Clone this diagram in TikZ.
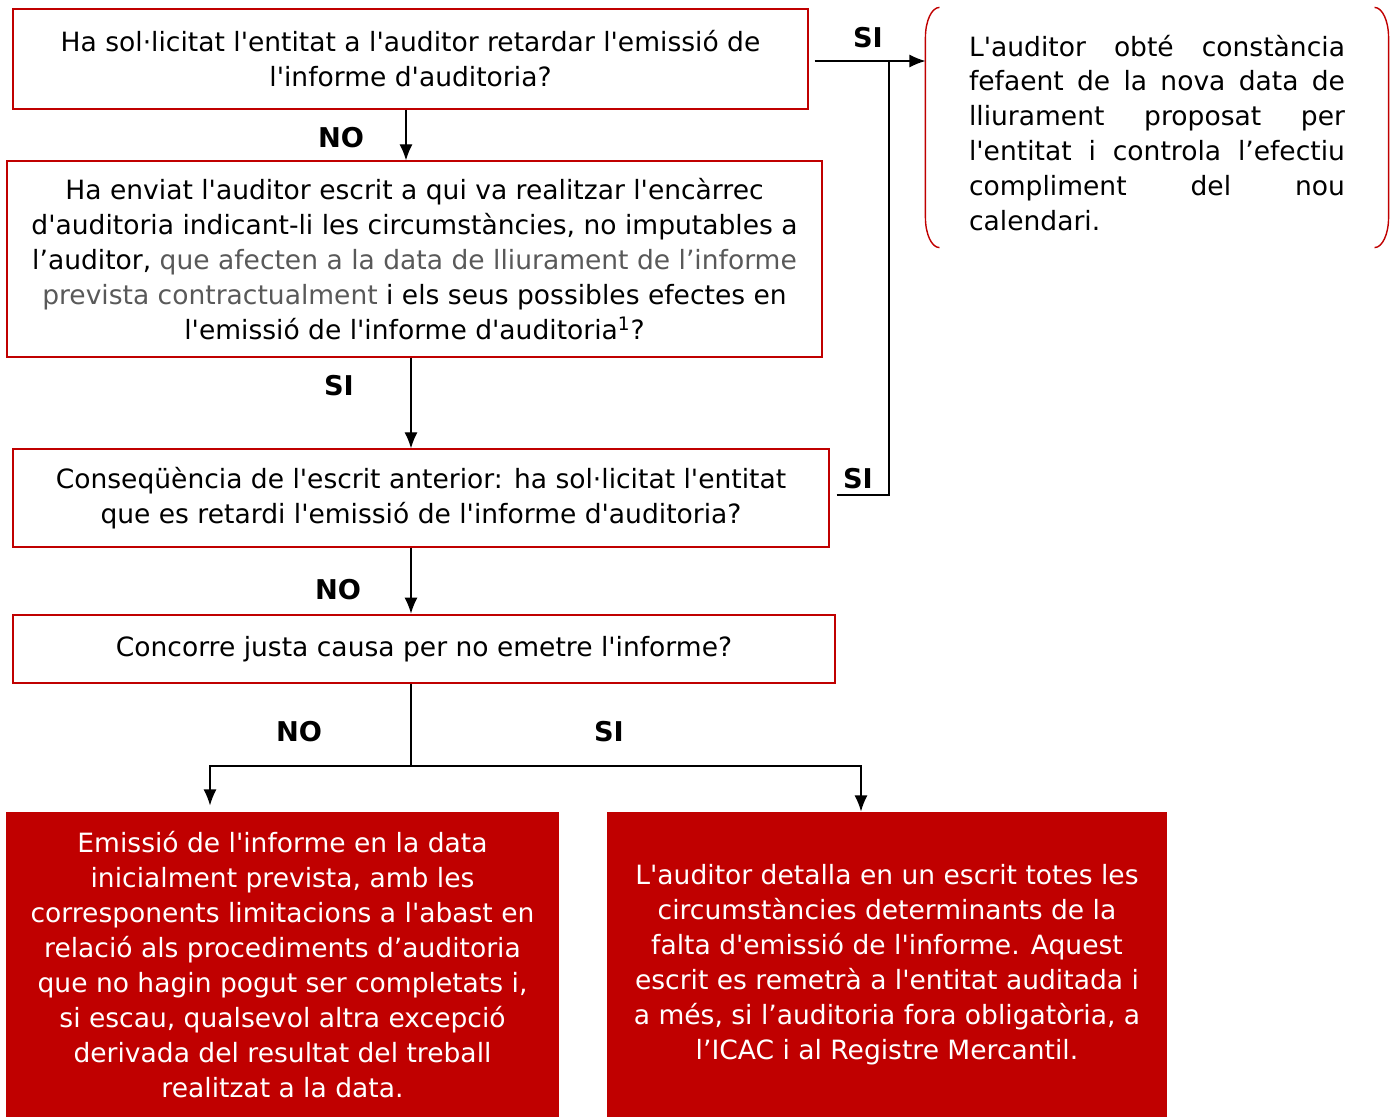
\documentclass[tikz,border=0pt]{standalone}
\usepackage{fontspec}
\usepackage{xcolor}
\usetikzlibrary{positioning, arrows.meta}
\newfontfamily\vfont{DejaVu Sans}
\definecolor{boxred}{HTML}{C00000}
\definecolor{txtgray}{HTML}{595959}

\begin{document}
\begin{tikzpicture}[x=0.02cm, y=-0.02cm, >={Latex[length=0.32cm,width=0.26cm]}, line width=0.7pt,
  font=\vfont\fontsize{15.1}{19.9}\selectfont]
  \tikzset{
    question/.style={draw=boxred, line width=0.8pt, align=center, inner sep=0pt},
    answer/.style={fill=boxred, text=white, align=center, inner sep=0pt},
    yesno/.style={font=\vfont\fontsize{15.5}{18}\selectfont\bfseries},
    bracket/.style={draw=boxred, line width=0.8pt}
  }
  \useasboundingbox (0,0) rectangle (1394,1117);

  % questions
  \node[question, minimum width=15.9cm, minimum height=2cm] (b1) at (410.5,59)
    {Ha sol·licitat l'entitat a l'auditor retardar l'emissió de\\ l'informe d'auditoria?};
  \node[question, minimum width=16.3cm, minimum height=3.92cm] (b2) at (414.5,259)
    {Ha enviat l'auditor escrit a qui va realitzar l'encàrrec\\
     d'auditoria indicant-li les circumstàncies, no imputables a\\
     l’auditor, \textcolor{txtgray}{que afecten a la data de lliurament de l’informe}\\
     \textcolor{txtgray}{prevista contractualment} i els seus possibles efectes en\\
     l'emissió de l'informe d'auditoria\textsuperscript{1}?};
  \node[question, minimum width=16.32cm, minimum height=1.96cm] (b3) at (421,498)
    {Conseqüència de l'escrit anterior: ha sol·licitat l'entitat\\ que es retardi l'emissió de l'informe d'auditoria?};
  \node[question, line width=1.6pt, minimum width=16.44cm, minimum height=1.36cm] (b4) at (424,649)
    {Concorre justa causa per no emetre l'informe?};

  % outcomes
  \node[answer, minimum width=11.06cm, minimum height=6.1cm] (b5) at (282.5,964.5)
    {Emissió de l'informe en la data\\ inicialment prevista, amb les\\
     corresponents limitacions a l'abast en\\ relació als procediments d’auditoria\\
     que no hagin pogut ser completats i,\\ si escau, qualsevol altra excepció\\
     derivada del resultat del treball\\ realitzat a la data.};
  \node[answer, minimum width=11.2cm, minimum height=6.1cm] (b6) at (887,964.5)
    {L'auditor detalla en un escrit totes les\\ circumstàncies determinants de la\\
     falta d'emissió de l'informe. Aquest\\ escrit es remetrà a l'entitat auditada i\\
     a més, si l’auditoria fora obligatòria, a\\ l’ICAC i al Registre Mercantil.};
  \node[minimum width=9.24cm, minimum height=4.86cm, text width=7.52cm, align=justify, inner sep=0pt] (rb) at (1157,133)
    {L'auditor obté constància\linebreak fefaent de la nova data de\linebreak
     lliurament proposat per\linebreak l'entitat i controla l’efectiu\linebreak
     compliment del nou\linebreak calendari.};
  \draw[bracket] ([xshift=0.28cm,yshift=0.07cm]rb.north west) arc[start angle=90, end angle=180, x radius=0.28cm, y radius=0.6cm]
    -- ([yshift=0.75cm]rb.south west) arc[start angle=180, end angle=270, x radius=0.28cm, y radius=0.6cm];
  \draw[bracket] ([xshift=-0.28cm,yshift=0.07cm]rb.north east) arc[start angle=90, end angle=0, x radius=0.28cm, y radius=0.6cm]
    -- ([yshift=0.75cm]rb.south east) arc[start angle=0, end angle=-90, x radius=0.28cm, y radius=0.6cm];

  % connectors
  \coordinate (c1) at (406,0);
  \coordinate (c2) at (411,0);
  \coordinate (fork) at (411,766);
  \coordinate (join) at (889,61);
  \coordinate (n5) at (210,0);
  \coordinate (n6) at (861,0);
  \draw[->] (b1.south -| c1) -- (b2.north -| c1);
  \draw[->] (b2.south -| c2) -- (b3.north -| c2);
  \draw[->] (b3.south -| c2) -- (b4.north -| c2);
  \draw (b4.south -| fork) -- (fork);
  \draw[->, shorten >=0.12cm] (fork) -| (b5.north -| n5);
  \draw[->] (fork) -| (b6.north -| n6);
  \draw[->] ([xshift=0.12cm]b1.east |- join) -- (rb.west |- join);
  \draw ([xshift=0.14cm]b3.east) ++(0,-3) -| (join);

  % labels
  \node[yesno] (l1) at (341,138) {NO};
  \node[yesno] (l2) at (339,386) {SI};
  \node[yesno] (l3) at (338,590) {NO};
  \node[yesno] (l4) at (299,732) {NO};
  \node[yesno] (l5) at (609,732) {SI};
  \node[yesno] (l6) at (868,38) {SI};
  \node[yesno] (l7) at (858,479) {SI};
\end{tikzpicture}
\end{document}
